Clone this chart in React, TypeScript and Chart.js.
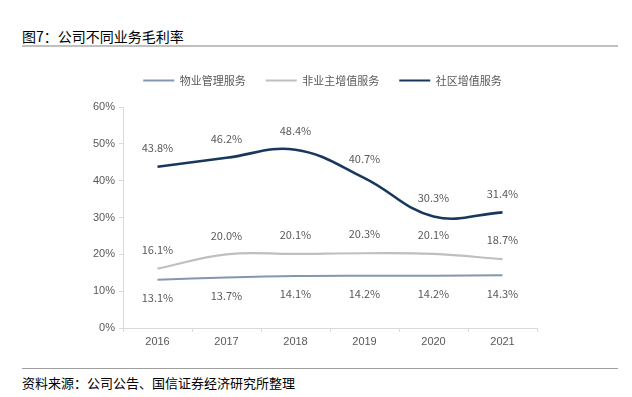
import React, { useEffect, useRef, useState } from "react";
import { Chart, registerables } from "chart.js";

Chart.register(...registerables);

const categories = ["2016", "2017", "2018", "2019", "2020", "2021"];
const seriesNames = ["物业管理服务", "非业主增值服务", "社区增值服务"];
const propertyMgmt = [13.1, 13.7, 14.1, 14.2, 14.2, 14.3];
const nonOwnerValueAdded = [16.1, 20.0, 20.1, 20.3, 20.1, 18.7];
const communityValueAdded = [43.8, 46.2, 48.4, 40.7, 30.3, 31.4];
const yTickMin = 0;
const yTickMax = 60;
const yTickStep = 10;

const title = "图7：公司不同业务毛利率";
const source = "资料来源：公司公告、国信证券经济研究所整理";

const colors = ["#8497b0", "#bfbfbf", "#17375e"];
const labelColor = "#595959";
const cjkFont = '"Noto Sans CJK SC", "Noto Sans", sans-serif';
const tickFont = '"Liberation Sans", Arial, sans-serif';

const dataLabelPlugin = {
  id: "dataLabels",
  afterDatasetsDraw(chart: any) {
    const ctx = chart.ctx;
    ctx.save();
    ctx.font = `11px ${cjkFont}`;
    ctx.fillStyle = labelColor;
    ctx.textAlign = "center";
    ctx.textBaseline = "middle";
    chart.data.datasets.forEach((ds: any, i: number) => {
      const meta = chart.getDatasetMeta(i);
      meta.data.forEach((pt: any, j: number) => {
        const v = ds.data[j] as number;
        const dy = i === 0 ? 18 : -19;
        ctx.fillText(v.toFixed(1) + "%", pt.x, pt.y + dy);
      });
    });
    ctx.restore();
  },
};

const legendTweakPlugin = {
  id: "legendTweak",
  afterInit(chart: any) {
    const lg = chart.legend;
    if (!lg || lg.__patched) return;
    const origFit = lg.fit.bind(lg);
    lg.fit = function () {
      origFit();
      this.height += 11;
    };
    lg.__patched = true;
  },
  afterLayout(chart: any) {
    const lg = chart.legend;
    if (!lg) return;
    lg.left += 54;
    lg.right += 54;
  },
};

export default function App() {
  const canvasRef = useRef<HTMLCanvasElement | null>(null);

  useEffect(() => {
    if (!canvasRef.current) return;
    const chart = new Chart(canvasRef.current, {
      type: "line",
      data: {
        labels: categories,
        datasets: [
          { label: seriesNames[0], data: propertyMgmt, borderColor: colors[0], backgroundColor: colors[0], borderWidth: 2, pointRadius: 0, tension: 0.4 },
          { label: seriesNames[1], data: nonOwnerValueAdded, borderColor: colors[1], backgroundColor: colors[1], borderWidth: 2.2, pointRadius: 0, tension: 0.4 },
          { label: seriesNames[2], data: communityValueAdded, borderColor: colors[2], backgroundColor: colors[2], borderWidth: 2.6, pointRadius: 0, tension: 0.4 },
        ],
      },
      options: {
        animation: false,
        responsive: false,
        maintainAspectRatio: false,
        layout: { padding: { left: 0, right: 95, top: 0, bottom: 2 } },
        plugins: {
          tooltip: { enabled: false },
          legend: {
            position: "top",
            labels: {
              boxWidth: 31,
              boxHeight: 2,
              padding: 20,
              color: labelColor,
              font: { family: cjkFont, size: 11 },
              generateLabels: (c: any) =>
                c.data.datasets.map((ds: any, i: number) => ({
                  text: ds.label,
                  fillStyle: ds.borderColor,
                  strokeStyle: ds.borderColor,
                  lineWidth: 0,
                  hidden: false,
                  datasetIndex: i,
                  fontColor: labelColor,
                })),
            },
          },
        },
        scales: {
          x: {
            type: "category",
            offset: true,
            afterFit: (s: any) => { s.height = 30; },
            grid: { display: true, drawOnChartArea: false, offset: true, tickLength: 4, color: "#d9d9d9" },
            border: { display: true, color: "#d9d9d9", width: 1 },
            ticks: { color: labelColor, font: { family: tickFont, size: 11 }, padding: 3, maxRotation: 0 },
          },
          y: {
            min: yTickMin,
            max: yTickMax,
            afterFit: (s: any) => { s.width = 123; },
            grid: { display: true, drawOnChartArea: false, tickLength: 4, color: "#d9d9d9" },
            border: { display: true, color: "#d9d9d9", width: 1 },
            ticks: { stepSize: yTickStep, color: labelColor, font: { family: tickFont, size: 11 }, padding: 4, callback: (v: any) => v + "%" },
          },
        },
      },
      plugins: [legendTweakPlugin, dataLabelPlugin],
    } as any);
    return () => chart.destroy();
  }, []);

  return (
    <div style={{ position: "absolute", left: 0, top: 0, width: 632, height: 397, background: "#fff", overflow: "hidden" }}>
      <div style={{ position: "absolute", left: 22, top: 28, fontFamily: cjkFont, fontSize: 14, lineHeight: "16px", color: "#000", whiteSpace: "nowrap" }}>{title}</div>
      <div style={{ position: "absolute", left: 22, top: 45, width: 596, height: 2, background: "#c0c0c0" }} />
      <canvas ref={canvasRef} width={632} height={305} style={{ position: "absolute", left: 0, top: 55, width: 632, height: 305 }} />
      <div style={{ position: "absolute", left: 22, top: 368, width: 596, height: 1, background: "#a0a0a0" }} />
      <div style={{ position: "absolute", left: 22, top: 375, fontFamily: cjkFont, fontSize: 13, lineHeight: "16px", color: "#000", whiteSpace: "nowrap" }}>{source}</div>
    </div>
  );
}
